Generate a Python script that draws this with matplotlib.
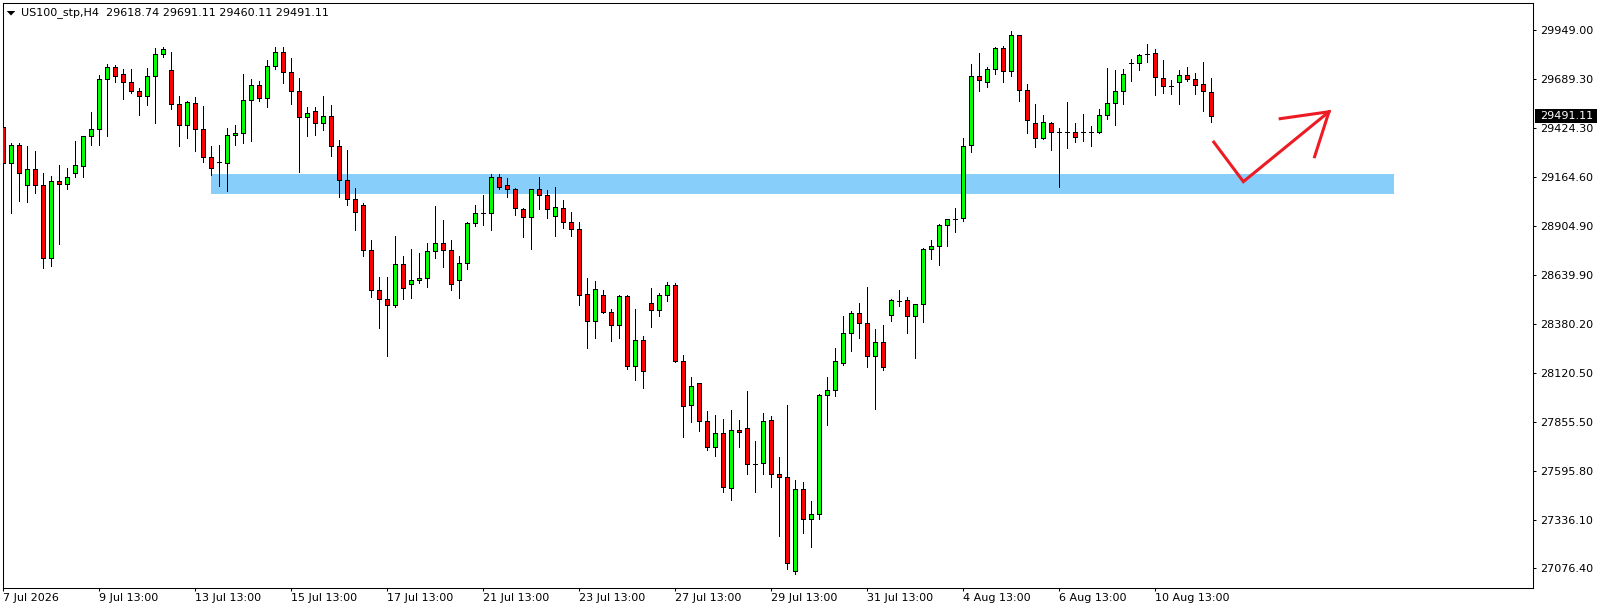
import matplotlib
matplotlib.use("Agg")
import matplotlib.pyplot as plt
import matplotlib.transforms as mtransforms
from matplotlib.patches import Rectangle, Polygon
import numpy as np

# US100_stp H4 candles (open / high / low / close)
opens = [29430, 29238, 29334, 29120, 29206, 29120, 28731, 29142, 29126, 29184,
         29222, 29382, 29419, 29686, 29750, 29713, 29670, 29623, 29595, 29702,
         29821, 29734, 29552, 29440, 29558, 29419, 29270, 29243, 29241, 29387,
         29398, 29574, 29654, 29588, 29755, 29830, 29723, 29622, 29483, 29515,
         29451, 29488, 29332, 29147, 29046, 29014, 28773, 28560, 28512, 28480,
         28699, 28592, 28613, 28624, 28768, 28811, 28773, 28613, 28704, 28917,
         28971, 28971, 29163, 29120, 29099, 28992, 28950, 29099, 29067, 28955,
         28999, 28924, 28887, 28539, 28395, 28533, 28443, 28373, 28528, 28154,
         28293, 28491, 28453, 28533, 28587, 28184, 27946, 28064, 27861, 27722,
         27797, 27503, 27813, 27824, 27635, 27637, 27866, 27578, 27562, 27062,
         27498, 27338, 27365, 27999, 28026, 28170, 28330, 28437, 28384, 28208,
         28283, 28427, 28503, 28507, 28421, 28485, 28779, 28798, 28907, 28942,
         28944, 29334, 29702, 29670, 29739, 29851, 29729, 29921, 29627, 29451,
         29371, 29451, 29403, 29403, 29403, 29403, 29403, 29403, 29494, 29558,
         29622, 29771, 29771, 29821, 29825, 29691, 29652, 29670, 29707, 29686,
         29659, 29618.74]
highs = [29483, 29348, 29344, 29330, 29303, 29184, 29170, 29229, 29211, 29357,
         29383, 29511, 29707, 29768, 29761, 29739, 29739, 29638, 29745, 29851,
         29857, 29832, 29595, 29568, 29590, 29545, 29332, 29335, 29428, 29440,
         29714, 29689, 29675, 29789, 29857, 29857, 29798, 29691, 29540, 29540,
         29595, 29547, 29360, 29307, 29104, 29024, 28827, 28629, 28629, 28848,
         28741, 28779, 28757, 28811, 29008, 28933, 28827, 28741, 28923, 29014,
         29067, 29179, 29179, 29158, 29104, 28998, 29099, 29163, 29094, 29110,
         29042, 28978, 28924, 28624, 28608, 28560, 28459, 28533, 28533, 28459,
         28314, 28571, 28544, 28603, 28597, 28215, 28096, 28064, 27914, 27893,
         27872, 27920, 27866, 28021, 27754, 27904, 27888, 27669, 27946, 27546,
         27535, 27434, 28005, 28097, 28250, 28421, 28448, 28491, 28576, 28352,
         28373, 28512, 28560, 28523, 28485, 28784, 28827, 28912, 28939, 28998,
         29371, 29766, 29825, 29750, 29857, 29862, 29944, 29921, 29659, 29552,
         29494, 29456, 29424, 29563, 29451, 29499, 29435, 29526, 29745, 29734,
         29739, 29793, 29819, 29873, 29846, 29787, 29681, 29734, 29750, 29718,
         29777, 29691.11]
lows = [29188, 28974, 29038, 29033, 29081, 28681, 28691, 28805, 29099, 29166,
        29166, 29337, 29337, 29385, 29670, 29582, 29614, 29497, 29550, 29454,
        29803, 29526, 29332, 29374, 29305, 29245, 29177, 29118, 29091, 29337,
        29348, 29358, 29572, 29540, 29742, 29668, 29552, 29193, 29385, 29390,
        29417, 29278, 29059, 29017, 28880, 28745, 28526, 28360, 28211, 28469,
        28515, 28520, 28600, 28579, 28734, 28686, 28563, 28520, 28675, 28905,
        28910, 28883, 29099, 29056, 28963, 28846, 28779, 28995, 28944, 28851,
        28892, 28850, 28483, 28254, 28307, 28437, 28291, 28307, 28142, 28083,
        28040, 28366, 28424, 28501, 28179, 27779, 27859, 27811, 27709, 27677,
        27485, 27443, 27725, 27581, 27485, 27581, 27512, 27250, 27071, 27046,
        27266, 27189, 27338, 27843, 27997, 28160, 28236, 28304, 28149, 27928,
        28133, 28398, 28478, 28334, 28199, 28392, 28729, 28697, 28798, 28873,
        28931, 29300, 29625, 29646, 29713, 29670, 29705, 29572, 29401, 29326,
        29366, 29310, 29113, 29321, 29350, 29358, 29332, 29398, 29472, 29440,
        29556, 29675, 29734, 29777, 29604, 29614, 29609, 29556, 29678, 29609,
        29518, 29460.11]
closes = [29238, 29334, 29184, 29206, 29120, 28731, 29142, 29126, 29163, 29229,
          29382, 29419, 29686, 29750, 29702, 29670, 29622, 29595, 29702, 29821,
          29846, 29552, 29440, 29563, 29419, 29270, 29214, 29243, 29387, 29398,
          29574, 29654, 29584, 29755, 29830, 29723, 29622, 29483, 29504, 29451,
          29488, 29332, 29147, 29046, 28976, 28773, 28560, 28512, 28480, 28699,
          28574, 28613, 28624, 28768, 28811, 28773, 28592, 28704, 28917, 28971,
          28971, 29163, 29110, 29099, 28998, 28950, 29099, 29067, 28992, 29003,
          28924, 28887, 28533, 28395, 28565, 28443, 28373, 28528, 28154, 28293,
          28128, 28453, 28533, 28587, 28184, 27941, 28048, 27861, 27722, 27797,
          27509, 27813, 27802, 27632, 27635, 27861, 27578, 27562, 27103, 27498,
          27338, 27365, 27999, 28026, 28181, 28330, 28437, 28384, 28208, 28283,
          28149, 28507, 28503, 28421, 28485, 28779, 28795, 28907, 28939, 28942,
          29328, 29702, 29684, 29739, 29851, 29729, 29921, 29627, 29467, 29371,
          29456, 29403, 29403, 29403, 29376, 29403, 29403, 29494, 29558, 29622,
          29713, 29771, 29814, 29821, 29697, 29649, 29652, 29707, 29686, 29657,
          29622, 29491.11]

price_ticks = [29949.00, 29689.30, 29424.30, 29164.60, 28904.90, 28639.90,
               28380.20, 28120.50, 27855.50, 27595.80, 27336.10, 27076.40]
time_tick_bars = [0, 12, 24, 36, 48, 60, 72, 84, 96, 108, 120, 132, 144]
time_tick_labels = ["7 Jul 2026", "9 Jul 13:00", "13 Jul 13:00", "15 Jul 13:00",
                    "17 Jul 13:00", "21 Jul 13:00", "23 Jul 13:00", "27 Jul 13:00",
                    "29 Jul 13:00", "31 Jul 13:00", "4 Aug 13:00", "6 Aug 13:00",
                    "10 Aug 13:00"]

# support zone (bar index range, price range)
zone_bars = [26, 173.8]
zone_prices = [29075, 29180]

# hand drawn arrow (bar index, price)
arrow_bars = [151.3, 155.0, 165.7]
arrow_prices = [29351, 29140, 29513]
head_bars = [159.6, 165.7, 163.9]
head_prices = [29476, 29513, 29273]

title = "US100_stp,H4  29618.74 29691.11 29460.11 29491.11"

W, H = 1604, 611
fig = plt.figure(figsize=(W / 100, H / 100), dpi=100)
ax = fig.add_axes([2.5 / W, 1 - 587.5 / H, (1533 - 2.5) / W, (587.5 - 2.5) / H])

o = np.array(opens, dtype=float)
h = np.array(highs, dtype=float)
l = np.array(lows, dtype=float)
c = np.array(closes, dtype=float)
x = np.arange(len(o))

ax.fill_between(zone_bars, zone_prices[0], zone_prices[1], color="#87CEFA", lw=0, zorder=1)

# wicks then bodies, 1px black outlines like the terminal draws them
ax.vlines(x, l, h, colors="black", lw=0.7, zorder=2, antialiased=False)
colors = np.where(c > o, "#00FF00", "#FF0000")
ax.bar(x, np.abs(c - o), bottom=np.minimum(o, c), width=0.52, color=colors,
       edgecolor="black", lw=0.7, zorder=3, antialiased=False)

ax.plot(arrow_bars, arrow_prices, color="#ED1C24", lw=2.2, solid_joinstyle="miter", zorder=4)
ax.plot(head_bars, head_prices, color="#ED1C24", lw=2.2, solid_joinstyle="miter", zorder=4)

ax.set_xlim(-0.1, 191.2)
ax.set_ylim(26974, 30096)

for s in ax.spines.values():
    s.set_linewidth(0.75)

ax.yaxis.tick_right()
ax.set_yticks(price_ticks)
ax.set_yticklabels(["%.2f" % p for p in price_ticks])
ax.set_xticks(time_tick_bars)
ax.set_xticklabels(time_tick_labels, ha="left")
ax.tick_params(axis="both", direction="out", length=2.3, width=0.75, labelsize=8, colors="black")
ax.tick_params(axis="y", pad=3)
ax.tick_params(axis="x", pad=1.5)

# current price marker on the price scale
blend = mtransforms.blended_transform_factory(fig.transFigure, ax.transData)
last = closes[-1]
ax.add_patch(Rectangle((1535 / W, last - 36), 62 / W, 72, transform=blend,
                       facecolor="black", edgecolor="none", clip_on=False, zorder=10))
ax.text(1540 / W, last, "%.2f" % last, transform=blend, color="white", fontsize=8,
        va="center", ha="left", clip_on=False, zorder=11)

# chart header
fig.add_artist(Polygon([[6.7 / W, 1 - 11 / H], [15.3 / W, 1 - 11 / H], [11 / W, 1 - 15.5 / H]],
                       closed=True, transform=fig.transFigure, facecolor="black", edgecolor="none"))
fig.text(21.3 / W, 1 - 13 / H, title, fontsize=8, va="center", ha="left")

fig.savefig("out.png", dpi=100, facecolor="white")
